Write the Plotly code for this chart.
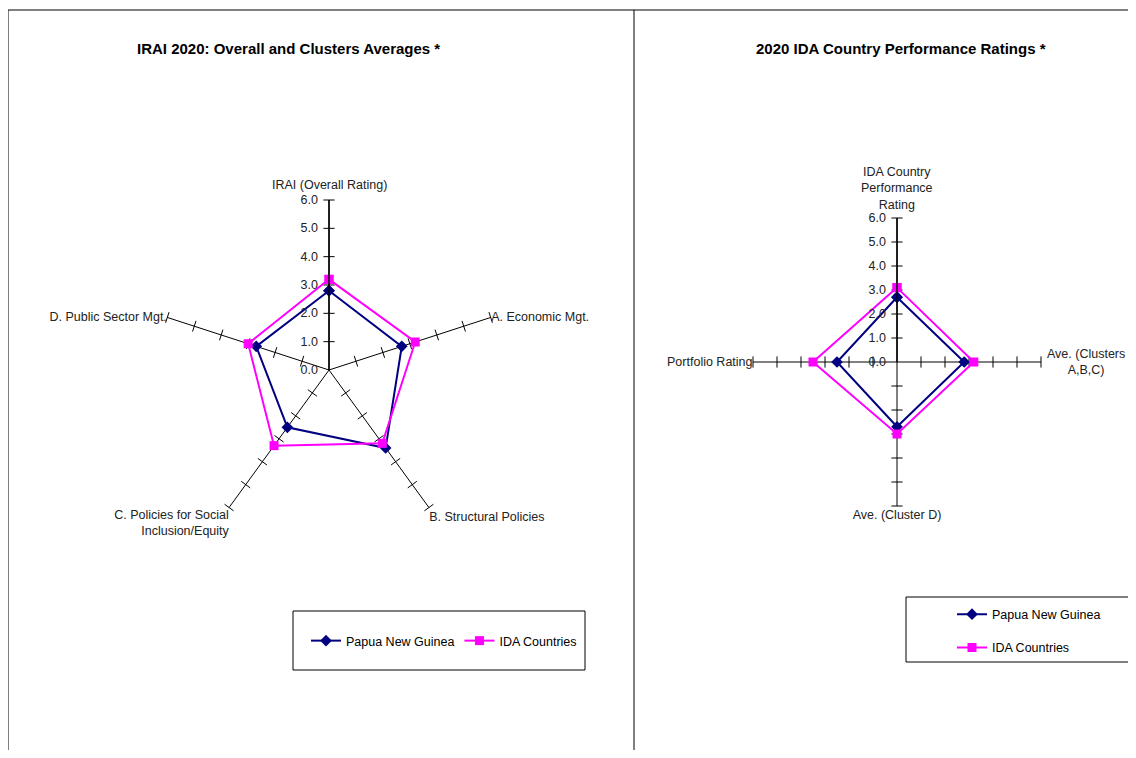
import plotly.graph_objects as go

# ---- data ----
left_title = "IRAI 2020: Overall and Clusters Averages *"
right_title = "2020 IDA Country Performance Ratings *"

left_categories = ["IRAI (Overall Rating)", "A. Economic Mgt.", "B. Structural Policies",
                   "C. Policies for Social<br>Inclusion/Equity", "D. Public Sector Mgt."]
left_png = [2.8, 2.7, 3.4, 2.5, 2.7]
left_ida = [3.2, 3.2, 3.2, 3.3, 3.0]

right_categories = ["IDA Country<br>Performance<br>Rating", "Ave. (Clusters<br>A,B,C)",
                    "Ave. (Cluster D)", "Portfolio Rating"]
right_png = [2.7, 2.8, 2.7, 2.5]
right_ida = [3.1, 3.2, 3.0, 3.5]

series_names = ["Papua New Guinea", "IDA Countries"]
tick_values = [0, 1, 2, 3, 4, 5, 6]

# ---- style ----
OFF = 8  # page body margin
W, H = 1136 - 2 * OFF, 758 - 2 * OFF
FONT = "Liberation Sans, Arial, sans-serif"
NAVY = "#000080"
MAG = "#FF00FF"
LBL = 12.5


def px(x):
    return (x - OFF) / W


def py(y):
    return 1 - (y - OFF) / H


fig = go.Figure()


def closed(a):
    return list(a) + [a[0]]


def add_chart(cats, png, ida, polar, legend, cx, cy, R, manual):
    n = len(cats)
    th, rr, ang = [], [], []
    for k, c in enumerate(cats):
        phi = 90 - 360.0 * k / n
        for v in tick_values[1:]:
            th.append(c)
            rr.append(v)
            ang.append(-(phi + 90))
    fig.add_trace(go.Scatterpolar(
        r=rr, theta=th, mode="markers", subplot=polar, showlegend=False, hoverinfo="skip",
        marker=dict(symbol="line-ew", size=8, angle=ang, color="black",
                    line=dict(color="black", width=1))))
    fig.add_trace(go.Scatterpolar(
        r=closed(png), theta=closed(cats), mode="lines+markers", name=series_names[0],
        subplot=polar, legend=legend, legendgroup=legend + "a",
        line=dict(color=NAVY, width=2),
        marker=dict(symbol="diamond", size=9, color=NAVY)))
    fig.add_trace(go.Scatterpolar(
        r=closed(ida), theta=closed(cats), mode="lines+markers", name=series_names[1],
        subplot=polar, legend=legend, legendgroup=legend + "b",
        line=dict(color=MAG, width=2),
        marker=dict(symbol="square", size=9, color=MAG)))
    dom = dict(x=[px(cx - R), px(cx + R)], y=[py(cy + R), py(cy - R)])
    ticktext = ["" if c in manual else c for c in cats]
    fig.layout[polar] = dict(
        domain=dom,
        bgcolor="rgba(0,0,0,0)",
        radialaxis=dict(range=[0, 6], tickvals=tick_values, tickformat=".1f",
                        angle=90, side="counterclockwise", showgrid=False, tickangle=90,
                        showline=True, linecolor="black", linewidth=1.5,
                        ticks="outside", ticklen=6, tickcolor="rgba(0,0,0,0)",
                        tickfont=dict(family=FONT, size=LBL, color="#222")),
        angularaxis=dict(direction="clockwise", rotation=90, showline=False,
                         tickmode="array", tickvals=cats, ticktext=ticktext,
                         showgrid=True, gridcolor="black", gridwidth=1, ticks="",
                         tickfont=dict(family=FONT, size=LBL, color="#222")),
    )
    for c, (x, y, anchor) in manual.items():
        fig.add_annotation(x=px(x), y=py(y), xref="paper", yref="paper", text=c,
                           xanchor=anchor, yanchor="middle", align="center", showarrow=False,
                           font=dict(family=FONT, size=LBL, color="#222"))


add_chart(left_categories, left_png, left_ida, "polar", "legend", 329, 370, 170,
          {left_categories[0]: (329, 185, "center")})
add_chart(right_categories, right_png, right_ida, "polar2", "legend2", 897, 362, 144,
          {right_categories[0]: (897, 188, "center"), right_categories[1]: (1127, 362, "right")})

shapes = [
    dict(type="line", x0=8, x1=1136, y0=10, y1=10),
    dict(type="line", x0=8, x1=8, y0=10, y1=758),
    dict(type="line", x0=634, x1=634, y0=10, y1=758),
    dict(type="rect", x0=293, x1=585, y0=611, y1=670),
    dict(type="rect", x0=906, x1=1140, y0=597, y1=662),
]
for s in shapes:
    s.update(xref="paper", yref="paper")
    s["x0"], s["x1"] = px(s["x0"]), px(s["x1"])
    s["y0"], s["y1"] = py(s["y0"]), py(s["y1"])
    s["line"] = dict(color="black", width=1)
fig.update_layout(shapes=shapes)

fig.add_annotation(x=px(288), y=py(48), xref="paper", yref="paper", text="<b>" + left_title + "</b>",
                   xanchor="center", yanchor="middle", showarrow=False,
                   font=dict(family=FONT, size=15, color="black"))
fig.add_annotation(x=px(901), y=py(48), xref="paper", yref="paper", text="<b>" + right_title + "</b>",
                   xanchor="center", yanchor="middle", showarrow=False,
                   font=dict(family=FONT, size=15, color="black"))

fig.update_layout(
    width=W, height=H,
    margin=dict(l=0, r=0, t=0, b=0),
    paper_bgcolor="white", plot_bgcolor="white",
    font=dict(family=FONT, size=LBL, color="black"),
    legend=dict(orientation="h", x=px(444), y=py(641), xanchor="center", yanchor="middle",
                bgcolor="rgba(0,0,0,0)", borderwidth=0, font=dict(family=FONT, size=12.5)),
    legend2=dict(orientation="v", x=px(952), y=py(631), xanchor="left", yanchor="middle",
                 bgcolor="rgba(0,0,0,0)", borderwidth=0, tracegroupgap=14,
                 font=dict(family=FONT, size=12.5)),
)

fig.write_html("out.html")
